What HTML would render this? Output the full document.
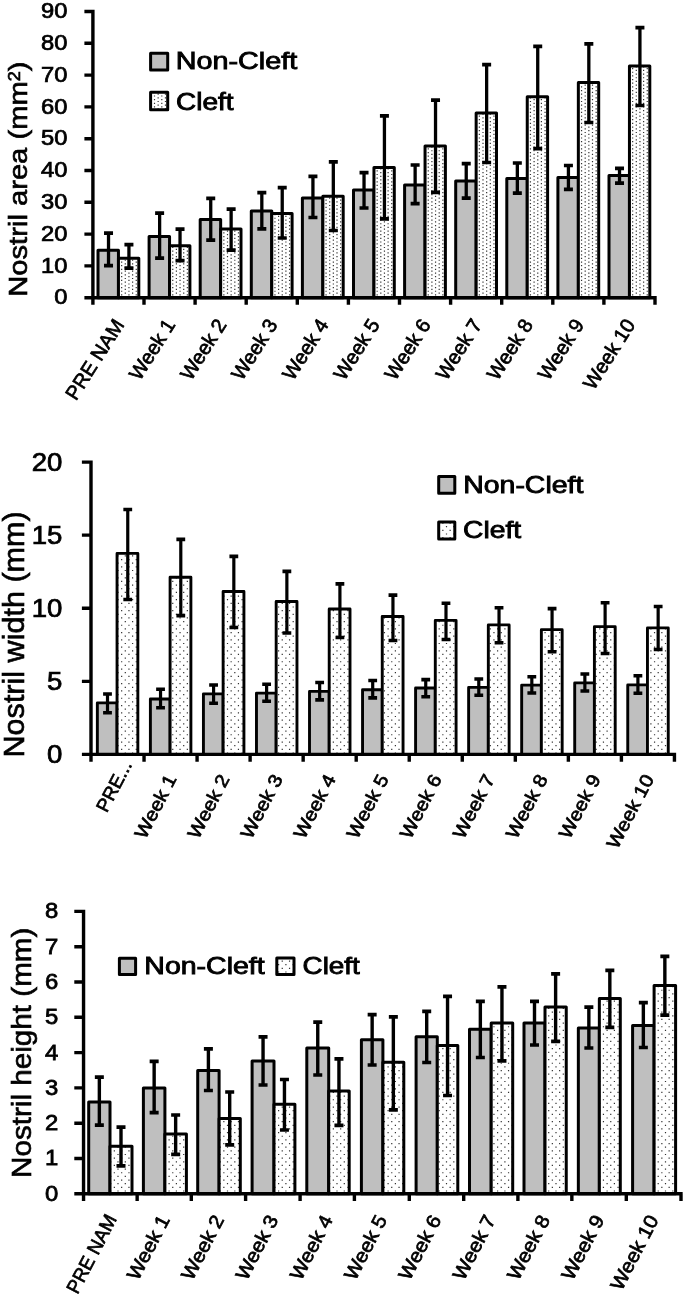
<!DOCTYPE html>
<html><head><meta charset="utf-8"><title>Nostril measurements</title>
<style>
html,body{margin:0;padding:0;background:#fff;}
body{width:685px;height:1300px;overflow:hidden;}
svg{display:block;font-family:"Liberation Sans", sans-serif;fill:#000;}
</style></head><body>
<svg width="685" height="1300" viewBox="0 0 685 1300">
<defs>
<pattern id="p1" width="73" height="73" patternUnits="userSpaceOnUse"><rect width="73" height="73" fill="#fff"/><path d="M0.6 0.5h1.2v1.2h-1.2zM4.25 2.33h1.2v1.2h-1.2zM0.6 4.15h1.2v1.2h-1.2zM4.25 5.97h1.2v1.2h-1.2zM0.6 7.8h1.2v1.2h-1.2zM4.25 9.62h1.2v1.2h-1.2zM0.6 11.45h1.2v1.2h-1.2zM4.25 13.27h1.2v1.2h-1.2zM0.6 15.1h1.2v1.2h-1.2zM4.25 16.93h1.2v1.2h-1.2zM0.6 18.75h1.2v1.2h-1.2zM4.25 20.57h1.2v1.2h-1.2zM0.6 22.4h1.2v1.2h-1.2zM4.25 24.22h1.2v1.2h-1.2zM0.6 26.05h1.2v1.2h-1.2zM4.25 27.88h1.2v1.2h-1.2zM0.6 29.7h1.2v1.2h-1.2zM4.25 31.52h1.2v1.2h-1.2zM0.6 33.35h1.2v1.2h-1.2zM4.25 35.18h1.2v1.2h-1.2zM0.6 37h1.2v1.2h-1.2zM4.25 38.83h1.2v1.2h-1.2zM0.6 40.65h1.2v1.2h-1.2zM4.25 42.48h1.2v1.2h-1.2zM0.6 44.3h1.2v1.2h-1.2zM4.25 46.12h1.2v1.2h-1.2zM0.6 47.95h1.2v1.2h-1.2zM4.25 49.77h1.2v1.2h-1.2zM0.6 51.6h1.2v1.2h-1.2zM4.25 53.43h1.2v1.2h-1.2zM0.6 55.25h1.2v1.2h-1.2zM4.25 57.08h1.2v1.2h-1.2zM0.6 58.9h1.2v1.2h-1.2zM4.25 60.73h1.2v1.2h-1.2zM0.6 62.55h1.2v1.2h-1.2zM4.25 64.38h1.2v1.2h-1.2zM0.6 66.2h1.2v1.2h-1.2zM4.25 68.03h1.2v1.2h-1.2zM0.6 69.85h1.2v1.2h-1.2zM4.25 71.67h1.2v1.2h-1.2zM7.9 0.5h1.2v1.2h-1.2zM11.55 2.33h1.2v1.2h-1.2zM7.9 4.15h1.2v1.2h-1.2zM11.55 5.97h1.2v1.2h-1.2zM7.9 7.8h1.2v1.2h-1.2zM11.55 9.62h1.2v1.2h-1.2zM7.9 11.45h1.2v1.2h-1.2zM11.55 13.27h1.2v1.2h-1.2zM7.9 15.1h1.2v1.2h-1.2zM11.55 16.93h1.2v1.2h-1.2zM7.9 18.75h1.2v1.2h-1.2zM11.55 20.57h1.2v1.2h-1.2zM7.9 22.4h1.2v1.2h-1.2zM11.55 24.22h1.2v1.2h-1.2zM7.9 26.05h1.2v1.2h-1.2zM11.55 27.88h1.2v1.2h-1.2zM7.9 29.7h1.2v1.2h-1.2zM11.55 31.52h1.2v1.2h-1.2zM7.9 33.35h1.2v1.2h-1.2zM11.55 35.18h1.2v1.2h-1.2zM7.9 37h1.2v1.2h-1.2zM11.55 38.83h1.2v1.2h-1.2zM7.9 40.65h1.2v1.2h-1.2zM11.55 42.48h1.2v1.2h-1.2zM7.9 44.3h1.2v1.2h-1.2zM11.55 46.12h1.2v1.2h-1.2zM7.9 47.95h1.2v1.2h-1.2zM11.55 49.77h1.2v1.2h-1.2zM7.9 51.6h1.2v1.2h-1.2zM11.55 53.43h1.2v1.2h-1.2zM7.9 55.25h1.2v1.2h-1.2zM11.55 57.08h1.2v1.2h-1.2zM7.9 58.9h1.2v1.2h-1.2zM11.55 60.73h1.2v1.2h-1.2zM7.9 62.55h1.2v1.2h-1.2zM11.55 64.38h1.2v1.2h-1.2zM7.9 66.2h1.2v1.2h-1.2zM11.55 68.03h1.2v1.2h-1.2zM7.9 69.85h1.2v1.2h-1.2zM11.55 71.67h1.2v1.2h-1.2zM15.2 0.5h1.2v1.2h-1.2zM18.85 2.33h1.2v1.2h-1.2zM15.2 4.15h1.2v1.2h-1.2zM18.85 5.97h1.2v1.2h-1.2zM15.2 7.8h1.2v1.2h-1.2zM18.85 9.62h1.2v1.2h-1.2zM15.2 11.45h1.2v1.2h-1.2zM18.85 13.27h1.2v1.2h-1.2zM15.2 15.1h1.2v1.2h-1.2zM18.85 16.93h1.2v1.2h-1.2zM15.2 18.75h1.2v1.2h-1.2zM18.85 20.57h1.2v1.2h-1.2zM15.2 22.4h1.2v1.2h-1.2zM18.85 24.22h1.2v1.2h-1.2zM15.2 26.05h1.2v1.2h-1.2zM18.85 27.88h1.2v1.2h-1.2zM15.2 29.7h1.2v1.2h-1.2zM18.85 31.52h1.2v1.2h-1.2zM15.2 33.35h1.2v1.2h-1.2zM18.85 35.18h1.2v1.2h-1.2zM15.2 37h1.2v1.2h-1.2zM18.85 38.83h1.2v1.2h-1.2zM15.2 40.65h1.2v1.2h-1.2zM18.85 42.48h1.2v1.2h-1.2zM15.2 44.3h1.2v1.2h-1.2zM18.85 46.12h1.2v1.2h-1.2zM15.2 47.95h1.2v1.2h-1.2zM18.85 49.77h1.2v1.2h-1.2zM15.2 51.6h1.2v1.2h-1.2zM18.85 53.43h1.2v1.2h-1.2zM15.2 55.25h1.2v1.2h-1.2zM18.85 57.08h1.2v1.2h-1.2zM15.2 58.9h1.2v1.2h-1.2zM18.85 60.73h1.2v1.2h-1.2zM15.2 62.55h1.2v1.2h-1.2zM18.85 64.38h1.2v1.2h-1.2zM15.2 66.2h1.2v1.2h-1.2zM18.85 68.03h1.2v1.2h-1.2zM15.2 69.85h1.2v1.2h-1.2zM18.85 71.67h1.2v1.2h-1.2zM22.5 0.5h1.2v1.2h-1.2zM26.15 2.33h1.2v1.2h-1.2zM22.5 4.15h1.2v1.2h-1.2zM26.15 5.97h1.2v1.2h-1.2zM22.5 7.8h1.2v1.2h-1.2zM26.15 9.62h1.2v1.2h-1.2zM22.5 11.45h1.2v1.2h-1.2zM26.15 13.27h1.2v1.2h-1.2zM22.5 15.1h1.2v1.2h-1.2zM26.15 16.93h1.2v1.2h-1.2zM22.5 18.75h1.2v1.2h-1.2zM26.15 20.57h1.2v1.2h-1.2zM22.5 22.4h1.2v1.2h-1.2zM26.15 24.22h1.2v1.2h-1.2zM22.5 26.05h1.2v1.2h-1.2zM26.15 27.88h1.2v1.2h-1.2zM22.5 29.7h1.2v1.2h-1.2zM26.15 31.52h1.2v1.2h-1.2zM22.5 33.35h1.2v1.2h-1.2zM26.15 35.18h1.2v1.2h-1.2zM22.5 37h1.2v1.2h-1.2zM26.15 38.83h1.2v1.2h-1.2zM22.5 40.65h1.2v1.2h-1.2zM26.15 42.48h1.2v1.2h-1.2zM22.5 44.3h1.2v1.2h-1.2zM26.15 46.12h1.2v1.2h-1.2zM22.5 47.95h1.2v1.2h-1.2zM26.15 49.77h1.2v1.2h-1.2zM22.5 51.6h1.2v1.2h-1.2zM26.15 53.43h1.2v1.2h-1.2zM22.5 55.25h1.2v1.2h-1.2zM26.15 57.08h1.2v1.2h-1.2zM22.5 58.9h1.2v1.2h-1.2zM26.15 60.73h1.2v1.2h-1.2zM22.5 62.55h1.2v1.2h-1.2zM26.15 64.38h1.2v1.2h-1.2zM22.5 66.2h1.2v1.2h-1.2zM26.15 68.03h1.2v1.2h-1.2zM22.5 69.85h1.2v1.2h-1.2zM26.15 71.67h1.2v1.2h-1.2zM29.8 0.5h1.2v1.2h-1.2zM33.45 2.33h1.2v1.2h-1.2zM29.8 4.15h1.2v1.2h-1.2zM33.45 5.97h1.2v1.2h-1.2zM29.8 7.8h1.2v1.2h-1.2zM33.45 9.62h1.2v1.2h-1.2zM29.8 11.45h1.2v1.2h-1.2zM33.45 13.27h1.2v1.2h-1.2zM29.8 15.1h1.2v1.2h-1.2zM33.45 16.93h1.2v1.2h-1.2zM29.8 18.75h1.2v1.2h-1.2zM33.45 20.57h1.2v1.2h-1.2zM29.8 22.4h1.2v1.2h-1.2zM33.45 24.22h1.2v1.2h-1.2zM29.8 26.05h1.2v1.2h-1.2zM33.45 27.88h1.2v1.2h-1.2zM29.8 29.7h1.2v1.2h-1.2zM33.45 31.52h1.2v1.2h-1.2zM29.8 33.35h1.2v1.2h-1.2zM33.45 35.18h1.2v1.2h-1.2zM29.8 37h1.2v1.2h-1.2zM33.45 38.83h1.2v1.2h-1.2zM29.8 40.65h1.2v1.2h-1.2zM33.45 42.48h1.2v1.2h-1.2zM29.8 44.3h1.2v1.2h-1.2zM33.45 46.12h1.2v1.2h-1.2zM29.8 47.95h1.2v1.2h-1.2zM33.45 49.77h1.2v1.2h-1.2zM29.8 51.6h1.2v1.2h-1.2zM33.45 53.43h1.2v1.2h-1.2zM29.8 55.25h1.2v1.2h-1.2zM33.45 57.08h1.2v1.2h-1.2zM29.8 58.9h1.2v1.2h-1.2zM33.45 60.73h1.2v1.2h-1.2zM29.8 62.55h1.2v1.2h-1.2zM33.45 64.38h1.2v1.2h-1.2zM29.8 66.2h1.2v1.2h-1.2zM33.45 68.03h1.2v1.2h-1.2zM29.8 69.85h1.2v1.2h-1.2zM33.45 71.67h1.2v1.2h-1.2zM37.1 0.5h1.2v1.2h-1.2zM40.75 2.33h1.2v1.2h-1.2zM37.1 4.15h1.2v1.2h-1.2zM40.75 5.97h1.2v1.2h-1.2zM37.1 7.8h1.2v1.2h-1.2zM40.75 9.62h1.2v1.2h-1.2zM37.1 11.45h1.2v1.2h-1.2zM40.75 13.27h1.2v1.2h-1.2zM37.1 15.1h1.2v1.2h-1.2zM40.75 16.93h1.2v1.2h-1.2zM37.1 18.75h1.2v1.2h-1.2zM40.75 20.57h1.2v1.2h-1.2zM37.1 22.4h1.2v1.2h-1.2zM40.75 24.22h1.2v1.2h-1.2zM37.1 26.05h1.2v1.2h-1.2zM40.75 27.88h1.2v1.2h-1.2zM37.1 29.7h1.2v1.2h-1.2zM40.75 31.52h1.2v1.2h-1.2zM37.1 33.35h1.2v1.2h-1.2zM40.75 35.18h1.2v1.2h-1.2zM37.1 37h1.2v1.2h-1.2zM40.75 38.83h1.2v1.2h-1.2zM37.1 40.65h1.2v1.2h-1.2zM40.75 42.48h1.2v1.2h-1.2zM37.1 44.3h1.2v1.2h-1.2zM40.75 46.12h1.2v1.2h-1.2zM37.1 47.95h1.2v1.2h-1.2zM40.75 49.77h1.2v1.2h-1.2zM37.1 51.6h1.2v1.2h-1.2zM40.75 53.43h1.2v1.2h-1.2zM37.1 55.25h1.2v1.2h-1.2zM40.75 57.08h1.2v1.2h-1.2zM37.1 58.9h1.2v1.2h-1.2zM40.75 60.73h1.2v1.2h-1.2zM37.1 62.55h1.2v1.2h-1.2zM40.75 64.38h1.2v1.2h-1.2zM37.1 66.2h1.2v1.2h-1.2zM40.75 68.03h1.2v1.2h-1.2zM37.1 69.85h1.2v1.2h-1.2zM40.75 71.67h1.2v1.2h-1.2zM44.4 0.5h1.2v1.2h-1.2zM48.05 2.33h1.2v1.2h-1.2zM44.4 4.15h1.2v1.2h-1.2zM48.05 5.97h1.2v1.2h-1.2zM44.4 7.8h1.2v1.2h-1.2zM48.05 9.62h1.2v1.2h-1.2zM44.4 11.45h1.2v1.2h-1.2zM48.05 13.27h1.2v1.2h-1.2zM44.4 15.1h1.2v1.2h-1.2zM48.05 16.93h1.2v1.2h-1.2zM44.4 18.75h1.2v1.2h-1.2zM48.05 20.57h1.2v1.2h-1.2zM44.4 22.4h1.2v1.2h-1.2zM48.05 24.22h1.2v1.2h-1.2zM44.4 26.05h1.2v1.2h-1.2zM48.05 27.88h1.2v1.2h-1.2zM44.4 29.7h1.2v1.2h-1.2zM48.05 31.52h1.2v1.2h-1.2zM44.4 33.35h1.2v1.2h-1.2zM48.05 35.18h1.2v1.2h-1.2zM44.4 37h1.2v1.2h-1.2zM48.05 38.83h1.2v1.2h-1.2zM44.4 40.65h1.2v1.2h-1.2zM48.05 42.48h1.2v1.2h-1.2zM44.4 44.3h1.2v1.2h-1.2zM48.05 46.12h1.2v1.2h-1.2zM44.4 47.95h1.2v1.2h-1.2zM48.05 49.77h1.2v1.2h-1.2zM44.4 51.6h1.2v1.2h-1.2zM48.05 53.43h1.2v1.2h-1.2zM44.4 55.25h1.2v1.2h-1.2zM48.05 57.08h1.2v1.2h-1.2zM44.4 58.9h1.2v1.2h-1.2zM48.05 60.73h1.2v1.2h-1.2zM44.4 62.55h1.2v1.2h-1.2zM48.05 64.38h1.2v1.2h-1.2zM44.4 66.2h1.2v1.2h-1.2zM48.05 68.03h1.2v1.2h-1.2zM44.4 69.85h1.2v1.2h-1.2zM48.05 71.67h1.2v1.2h-1.2zM51.7 0.5h1.2v1.2h-1.2zM55.35 2.33h1.2v1.2h-1.2zM51.7 4.15h1.2v1.2h-1.2zM55.35 5.97h1.2v1.2h-1.2zM51.7 7.8h1.2v1.2h-1.2zM55.35 9.62h1.2v1.2h-1.2zM51.7 11.45h1.2v1.2h-1.2zM55.35 13.27h1.2v1.2h-1.2zM51.7 15.1h1.2v1.2h-1.2zM55.35 16.93h1.2v1.2h-1.2zM51.7 18.75h1.2v1.2h-1.2zM55.35 20.57h1.2v1.2h-1.2zM51.7 22.4h1.2v1.2h-1.2zM55.35 24.22h1.2v1.2h-1.2zM51.7 26.05h1.2v1.2h-1.2zM55.35 27.88h1.2v1.2h-1.2zM51.7 29.7h1.2v1.2h-1.2zM55.35 31.52h1.2v1.2h-1.2zM51.7 33.35h1.2v1.2h-1.2zM55.35 35.18h1.2v1.2h-1.2zM51.7 37h1.2v1.2h-1.2zM55.35 38.83h1.2v1.2h-1.2zM51.7 40.65h1.2v1.2h-1.2zM55.35 42.48h1.2v1.2h-1.2zM51.7 44.3h1.2v1.2h-1.2zM55.35 46.12h1.2v1.2h-1.2zM51.7 47.95h1.2v1.2h-1.2zM55.35 49.77h1.2v1.2h-1.2zM51.7 51.6h1.2v1.2h-1.2zM55.35 53.43h1.2v1.2h-1.2zM51.7 55.25h1.2v1.2h-1.2zM55.35 57.08h1.2v1.2h-1.2zM51.7 58.9h1.2v1.2h-1.2zM55.35 60.73h1.2v1.2h-1.2zM51.7 62.55h1.2v1.2h-1.2zM55.35 64.38h1.2v1.2h-1.2zM51.7 66.2h1.2v1.2h-1.2zM55.35 68.03h1.2v1.2h-1.2zM51.7 69.85h1.2v1.2h-1.2zM55.35 71.67h1.2v1.2h-1.2zM59 0.5h1.2v1.2h-1.2zM62.65 2.33h1.2v1.2h-1.2zM59 4.15h1.2v1.2h-1.2zM62.65 5.97h1.2v1.2h-1.2zM59 7.8h1.2v1.2h-1.2zM62.65 9.62h1.2v1.2h-1.2zM59 11.45h1.2v1.2h-1.2zM62.65 13.27h1.2v1.2h-1.2zM59 15.1h1.2v1.2h-1.2zM62.65 16.93h1.2v1.2h-1.2zM59 18.75h1.2v1.2h-1.2zM62.65 20.57h1.2v1.2h-1.2zM59 22.4h1.2v1.2h-1.2zM62.65 24.22h1.2v1.2h-1.2zM59 26.05h1.2v1.2h-1.2zM62.65 27.88h1.2v1.2h-1.2zM59 29.7h1.2v1.2h-1.2zM62.65 31.52h1.2v1.2h-1.2zM59 33.35h1.2v1.2h-1.2zM62.65 35.18h1.2v1.2h-1.2zM59 37h1.2v1.2h-1.2zM62.65 38.83h1.2v1.2h-1.2zM59 40.65h1.2v1.2h-1.2zM62.65 42.48h1.2v1.2h-1.2zM59 44.3h1.2v1.2h-1.2zM62.65 46.12h1.2v1.2h-1.2zM59 47.95h1.2v1.2h-1.2zM62.65 49.77h1.2v1.2h-1.2zM59 51.6h1.2v1.2h-1.2zM62.65 53.43h1.2v1.2h-1.2zM59 55.25h1.2v1.2h-1.2zM62.65 57.08h1.2v1.2h-1.2zM59 58.9h1.2v1.2h-1.2zM62.65 60.73h1.2v1.2h-1.2zM59 62.55h1.2v1.2h-1.2zM62.65 64.38h1.2v1.2h-1.2zM59 66.2h1.2v1.2h-1.2zM62.65 68.03h1.2v1.2h-1.2zM59 69.85h1.2v1.2h-1.2zM62.65 71.67h1.2v1.2h-1.2zM66.3 0.5h1.2v1.2h-1.2zM69.95 2.33h1.2v1.2h-1.2zM66.3 4.15h1.2v1.2h-1.2zM69.95 5.97h1.2v1.2h-1.2zM66.3 7.8h1.2v1.2h-1.2zM69.95 9.62h1.2v1.2h-1.2zM66.3 11.45h1.2v1.2h-1.2zM69.95 13.27h1.2v1.2h-1.2zM66.3 15.1h1.2v1.2h-1.2zM69.95 16.93h1.2v1.2h-1.2zM66.3 18.75h1.2v1.2h-1.2zM69.95 20.57h1.2v1.2h-1.2zM66.3 22.4h1.2v1.2h-1.2zM69.95 24.22h1.2v1.2h-1.2zM66.3 26.05h1.2v1.2h-1.2zM69.95 27.88h1.2v1.2h-1.2zM66.3 29.7h1.2v1.2h-1.2zM69.95 31.52h1.2v1.2h-1.2zM66.3 33.35h1.2v1.2h-1.2zM69.95 35.18h1.2v1.2h-1.2zM66.3 37h1.2v1.2h-1.2zM69.95 38.83h1.2v1.2h-1.2zM66.3 40.65h1.2v1.2h-1.2zM69.95 42.48h1.2v1.2h-1.2zM66.3 44.3h1.2v1.2h-1.2zM69.95 46.12h1.2v1.2h-1.2zM66.3 47.95h1.2v1.2h-1.2zM69.95 49.77h1.2v1.2h-1.2zM66.3 51.6h1.2v1.2h-1.2zM69.95 53.43h1.2v1.2h-1.2zM66.3 55.25h1.2v1.2h-1.2zM69.95 57.08h1.2v1.2h-1.2zM66.3 58.9h1.2v1.2h-1.2zM69.95 60.73h1.2v1.2h-1.2zM66.3 62.55h1.2v1.2h-1.2zM69.95 64.38h1.2v1.2h-1.2zM66.3 66.2h1.2v1.2h-1.2zM69.95 68.03h1.2v1.2h-1.2zM66.3 69.85h1.2v1.2h-1.2zM69.95 71.67h1.2v1.2h-1.2z" fill="#333"/></pattern>
<pattern id="p2" width="73" height="73" patternUnits="userSpaceOnUse"><rect width="73" height="73" fill="#fff"/><path d="M0.6 0.5h1.2v1.2h-1.2zM4.25 4.15h1.2v1.2h-1.2zM0.6 7.8h1.2v1.2h-1.2zM4.25 11.45h1.2v1.2h-1.2zM0.6 15.1h1.2v1.2h-1.2zM4.25 18.75h1.2v1.2h-1.2zM0.6 22.4h1.2v1.2h-1.2zM4.25 26.05h1.2v1.2h-1.2zM0.6 29.7h1.2v1.2h-1.2zM4.25 33.35h1.2v1.2h-1.2zM0.6 37h1.2v1.2h-1.2zM4.25 40.65h1.2v1.2h-1.2zM0.6 44.3h1.2v1.2h-1.2zM4.25 47.95h1.2v1.2h-1.2zM0.6 51.6h1.2v1.2h-1.2zM4.25 55.25h1.2v1.2h-1.2zM0.6 58.9h1.2v1.2h-1.2zM4.25 62.55h1.2v1.2h-1.2zM0.6 66.2h1.2v1.2h-1.2zM4.25 69.85h1.2v1.2h-1.2zM7.9 0.5h1.2v1.2h-1.2zM11.55 4.15h1.2v1.2h-1.2zM7.9 7.8h1.2v1.2h-1.2zM11.55 11.45h1.2v1.2h-1.2zM7.9 15.1h1.2v1.2h-1.2zM11.55 18.75h1.2v1.2h-1.2zM7.9 22.4h1.2v1.2h-1.2zM11.55 26.05h1.2v1.2h-1.2zM7.9 29.7h1.2v1.2h-1.2zM11.55 33.35h1.2v1.2h-1.2zM7.9 37h1.2v1.2h-1.2zM11.55 40.65h1.2v1.2h-1.2zM7.9 44.3h1.2v1.2h-1.2zM11.55 47.95h1.2v1.2h-1.2zM7.9 51.6h1.2v1.2h-1.2zM11.55 55.25h1.2v1.2h-1.2zM7.9 58.9h1.2v1.2h-1.2zM11.55 62.55h1.2v1.2h-1.2zM7.9 66.2h1.2v1.2h-1.2zM11.55 69.85h1.2v1.2h-1.2zM15.2 0.5h1.2v1.2h-1.2zM18.85 4.15h1.2v1.2h-1.2zM15.2 7.8h1.2v1.2h-1.2zM18.85 11.45h1.2v1.2h-1.2zM15.2 15.1h1.2v1.2h-1.2zM18.85 18.75h1.2v1.2h-1.2zM15.2 22.4h1.2v1.2h-1.2zM18.85 26.05h1.2v1.2h-1.2zM15.2 29.7h1.2v1.2h-1.2zM18.85 33.35h1.2v1.2h-1.2zM15.2 37h1.2v1.2h-1.2zM18.85 40.65h1.2v1.2h-1.2zM15.2 44.3h1.2v1.2h-1.2zM18.85 47.95h1.2v1.2h-1.2zM15.2 51.6h1.2v1.2h-1.2zM18.85 55.25h1.2v1.2h-1.2zM15.2 58.9h1.2v1.2h-1.2zM18.85 62.55h1.2v1.2h-1.2zM15.2 66.2h1.2v1.2h-1.2zM18.85 69.85h1.2v1.2h-1.2zM22.5 0.5h1.2v1.2h-1.2zM26.15 4.15h1.2v1.2h-1.2zM22.5 7.8h1.2v1.2h-1.2zM26.15 11.45h1.2v1.2h-1.2zM22.5 15.1h1.2v1.2h-1.2zM26.15 18.75h1.2v1.2h-1.2zM22.5 22.4h1.2v1.2h-1.2zM26.15 26.05h1.2v1.2h-1.2zM22.5 29.7h1.2v1.2h-1.2zM26.15 33.35h1.2v1.2h-1.2zM22.5 37h1.2v1.2h-1.2zM26.15 40.65h1.2v1.2h-1.2zM22.5 44.3h1.2v1.2h-1.2zM26.15 47.95h1.2v1.2h-1.2zM22.5 51.6h1.2v1.2h-1.2zM26.15 55.25h1.2v1.2h-1.2zM22.5 58.9h1.2v1.2h-1.2zM26.15 62.55h1.2v1.2h-1.2zM22.5 66.2h1.2v1.2h-1.2zM26.15 69.85h1.2v1.2h-1.2zM29.8 0.5h1.2v1.2h-1.2zM33.45 4.15h1.2v1.2h-1.2zM29.8 7.8h1.2v1.2h-1.2zM33.45 11.45h1.2v1.2h-1.2zM29.8 15.1h1.2v1.2h-1.2zM33.45 18.75h1.2v1.2h-1.2zM29.8 22.4h1.2v1.2h-1.2zM33.45 26.05h1.2v1.2h-1.2zM29.8 29.7h1.2v1.2h-1.2zM33.45 33.35h1.2v1.2h-1.2zM29.8 37h1.2v1.2h-1.2zM33.45 40.65h1.2v1.2h-1.2zM29.8 44.3h1.2v1.2h-1.2zM33.45 47.95h1.2v1.2h-1.2zM29.8 51.6h1.2v1.2h-1.2zM33.45 55.25h1.2v1.2h-1.2zM29.8 58.9h1.2v1.2h-1.2zM33.45 62.55h1.2v1.2h-1.2zM29.8 66.2h1.2v1.2h-1.2zM33.45 69.85h1.2v1.2h-1.2zM37.1 0.5h1.2v1.2h-1.2zM40.75 4.15h1.2v1.2h-1.2zM37.1 7.8h1.2v1.2h-1.2zM40.75 11.45h1.2v1.2h-1.2zM37.1 15.1h1.2v1.2h-1.2zM40.75 18.75h1.2v1.2h-1.2zM37.1 22.4h1.2v1.2h-1.2zM40.75 26.05h1.2v1.2h-1.2zM37.1 29.7h1.2v1.2h-1.2zM40.75 33.35h1.2v1.2h-1.2zM37.1 37h1.2v1.2h-1.2zM40.75 40.65h1.2v1.2h-1.2zM37.1 44.3h1.2v1.2h-1.2zM40.75 47.95h1.2v1.2h-1.2zM37.1 51.6h1.2v1.2h-1.2zM40.75 55.25h1.2v1.2h-1.2zM37.1 58.9h1.2v1.2h-1.2zM40.75 62.55h1.2v1.2h-1.2zM37.1 66.2h1.2v1.2h-1.2zM40.75 69.85h1.2v1.2h-1.2zM44.4 0.5h1.2v1.2h-1.2zM48.05 4.15h1.2v1.2h-1.2zM44.4 7.8h1.2v1.2h-1.2zM48.05 11.45h1.2v1.2h-1.2zM44.4 15.1h1.2v1.2h-1.2zM48.05 18.75h1.2v1.2h-1.2zM44.4 22.4h1.2v1.2h-1.2zM48.05 26.05h1.2v1.2h-1.2zM44.4 29.7h1.2v1.2h-1.2zM48.05 33.35h1.2v1.2h-1.2zM44.4 37h1.2v1.2h-1.2zM48.05 40.65h1.2v1.2h-1.2zM44.4 44.3h1.2v1.2h-1.2zM48.05 47.95h1.2v1.2h-1.2zM44.4 51.6h1.2v1.2h-1.2zM48.05 55.25h1.2v1.2h-1.2zM44.4 58.9h1.2v1.2h-1.2zM48.05 62.55h1.2v1.2h-1.2zM44.4 66.2h1.2v1.2h-1.2zM48.05 69.85h1.2v1.2h-1.2zM51.7 0.5h1.2v1.2h-1.2zM55.35 4.15h1.2v1.2h-1.2zM51.7 7.8h1.2v1.2h-1.2zM55.35 11.45h1.2v1.2h-1.2zM51.7 15.1h1.2v1.2h-1.2zM55.35 18.75h1.2v1.2h-1.2zM51.7 22.4h1.2v1.2h-1.2zM55.35 26.05h1.2v1.2h-1.2zM51.7 29.7h1.2v1.2h-1.2zM55.35 33.35h1.2v1.2h-1.2zM51.7 37h1.2v1.2h-1.2zM55.35 40.65h1.2v1.2h-1.2zM51.7 44.3h1.2v1.2h-1.2zM55.35 47.95h1.2v1.2h-1.2zM51.7 51.6h1.2v1.2h-1.2zM55.35 55.25h1.2v1.2h-1.2zM51.7 58.9h1.2v1.2h-1.2zM55.35 62.55h1.2v1.2h-1.2zM51.7 66.2h1.2v1.2h-1.2zM55.35 69.85h1.2v1.2h-1.2zM59 0.5h1.2v1.2h-1.2zM62.65 4.15h1.2v1.2h-1.2zM59 7.8h1.2v1.2h-1.2zM62.65 11.45h1.2v1.2h-1.2zM59 15.1h1.2v1.2h-1.2zM62.65 18.75h1.2v1.2h-1.2zM59 22.4h1.2v1.2h-1.2zM62.65 26.05h1.2v1.2h-1.2zM59 29.7h1.2v1.2h-1.2zM62.65 33.35h1.2v1.2h-1.2zM59 37h1.2v1.2h-1.2zM62.65 40.65h1.2v1.2h-1.2zM59 44.3h1.2v1.2h-1.2zM62.65 47.95h1.2v1.2h-1.2zM59 51.6h1.2v1.2h-1.2zM62.65 55.25h1.2v1.2h-1.2zM59 58.9h1.2v1.2h-1.2zM62.65 62.55h1.2v1.2h-1.2zM59 66.2h1.2v1.2h-1.2zM62.65 69.85h1.2v1.2h-1.2zM66.3 0.5h1.2v1.2h-1.2zM69.95 4.15h1.2v1.2h-1.2zM66.3 7.8h1.2v1.2h-1.2zM69.95 11.45h1.2v1.2h-1.2zM66.3 15.1h1.2v1.2h-1.2zM69.95 18.75h1.2v1.2h-1.2zM66.3 22.4h1.2v1.2h-1.2zM69.95 26.05h1.2v1.2h-1.2zM66.3 29.7h1.2v1.2h-1.2zM69.95 33.35h1.2v1.2h-1.2zM66.3 37h1.2v1.2h-1.2zM69.95 40.65h1.2v1.2h-1.2zM66.3 44.3h1.2v1.2h-1.2zM69.95 47.95h1.2v1.2h-1.2zM66.3 51.6h1.2v1.2h-1.2zM69.95 55.25h1.2v1.2h-1.2zM66.3 58.9h1.2v1.2h-1.2zM69.95 62.55h1.2v1.2h-1.2zM66.3 66.2h1.2v1.2h-1.2zM69.95 69.85h1.2v1.2h-1.2z" fill="#333"/></pattern>
</defs>
<rect width="685" height="1300" fill="#fff"/>
<rect x="98" y="250.2" width="20.45" height="47.5" fill="#bfbfbf" stroke="#000" stroke-linejoin="round" stroke-width="3"/>
<rect x="118.45" y="258.2" width="20.35" height="39.5" fill="url(#p1)" stroke="#000" stroke-linejoin="round" stroke-width="3"/>
<path d="M108.52 233V265.5" stroke="#000" stroke-width="3.3" fill="none"/>
<path d="M104.02 233.2H113.02M104.02 265.7H113.02" stroke="#000" stroke-width="3.7" fill="none"/>
<path d="M128.93 244.5V268" stroke="#000" stroke-width="3.3" fill="none"/>
<path d="M124.43 244.7H133.43M124.43 268.2H133.43" stroke="#000" stroke-width="3.7" fill="none"/>
<rect x="149.1" y="236.45" width="20.45" height="61.25" fill="#bfbfbf" stroke="#000" stroke-linejoin="round" stroke-width="3"/>
<rect x="169.55" y="245.7" width="20.35" height="52" fill="url(#p1)" stroke="#000" stroke-linejoin="round" stroke-width="3"/>
<path d="M159.62 213V258" stroke="#000" stroke-width="3.3" fill="none"/>
<path d="M155.12 213.2H164.12M155.12 258.2H164.12" stroke="#000" stroke-width="3.7" fill="none"/>
<path d="M180.03 229V260.5" stroke="#000" stroke-width="3.3" fill="none"/>
<path d="M175.53 229.2H184.53M175.53 260.7H184.53" stroke="#000" stroke-width="3.7" fill="none"/>
<rect x="200.2" y="219.45" width="20.45" height="78.25" fill="#bfbfbf" stroke="#000" stroke-linejoin="round" stroke-width="3"/>
<rect x="220.65" y="228.95" width="20.35" height="68.75" fill="url(#p1)" stroke="#000" stroke-linejoin="round" stroke-width="3"/>
<path d="M210.73 198.25V240" stroke="#000" stroke-width="3.3" fill="none"/>
<path d="M206.23 198.45H215.23M206.23 240.2H215.23" stroke="#000" stroke-width="3.7" fill="none"/>
<path d="M231.13 209V250" stroke="#000" stroke-width="3.3" fill="none"/>
<path d="M226.63 209.2H235.63M226.63 250.2H235.63" stroke="#000" stroke-width="3.7" fill="none"/>
<rect x="251.3" y="211" width="20.45" height="86.7" fill="#bfbfbf" stroke="#000" stroke-linejoin="round" stroke-width="3"/>
<rect x="271.75" y="213.5" width="20.35" height="84.2" fill="url(#p1)" stroke="#000" stroke-linejoin="round" stroke-width="3"/>
<path d="M261.82 192.4V228.6" stroke="#000" stroke-width="3.3" fill="none"/>
<path d="M257.32 192.6H266.32M257.32 228.8H266.32" stroke="#000" stroke-width="3.7" fill="none"/>
<path d="M282.23 187.4V237.8" stroke="#000" stroke-width="3.3" fill="none"/>
<path d="M277.73 187.6H286.73M277.73 238H286.73" stroke="#000" stroke-width="3.7" fill="none"/>
<rect x="302.4" y="198.1" width="20.45" height="99.6" fill="#bfbfbf" stroke="#000" stroke-linejoin="round" stroke-width="3"/>
<rect x="322.85" y="196.3" width="20.35" height="101.4" fill="url(#p1)" stroke="#000" stroke-linejoin="round" stroke-width="3"/>
<path d="M312.93 176.1V217.3" stroke="#000" stroke-width="3.3" fill="none"/>
<path d="M308.43 176.3H317.43M308.43 217.5H317.43" stroke="#000" stroke-width="3.7" fill="none"/>
<path d="M333.32 161.7V230.3" stroke="#000" stroke-width="3.3" fill="none"/>
<path d="M328.82 161.9H337.82M328.82 230.5H337.82" stroke="#000" stroke-width="3.7" fill="none"/>
<rect x="353.5" y="190.1" width="20.45" height="107.6" fill="#bfbfbf" stroke="#000" stroke-linejoin="round" stroke-width="3"/>
<rect x="373.95" y="167.6" width="20.35" height="130.1" fill="url(#p1)" stroke="#000" stroke-linejoin="round" stroke-width="3"/>
<path d="M364.03 172.4V207.8" stroke="#000" stroke-width="3.3" fill="none"/>
<path d="M359.53 172.6H368.53M359.53 208H368.53" stroke="#000" stroke-width="3.7" fill="none"/>
<path d="M384.43 115.7V218.6" stroke="#000" stroke-width="3.3" fill="none"/>
<path d="M379.93 115.9H388.93M379.93 218.8H388.93" stroke="#000" stroke-width="3.7" fill="none"/>
<rect x="404.6" y="184.9" width="20.45" height="112.8" fill="#bfbfbf" stroke="#000" stroke-linejoin="round" stroke-width="3"/>
<rect x="425.05" y="146" width="20.35" height="151.7" fill="url(#p1)" stroke="#000" stroke-linejoin="round" stroke-width="3"/>
<path d="M415.13 164.8V203.5" stroke="#000" stroke-width="3.3" fill="none"/>
<path d="M410.63 165H419.63M410.63 203.7H419.63" stroke="#000" stroke-width="3.7" fill="none"/>
<path d="M435.53 99.9V192.2" stroke="#000" stroke-width="3.3" fill="none"/>
<path d="M431.03 100.1H440.03M431.03 192.4H440.03" stroke="#000" stroke-width="3.7" fill="none"/>
<rect x="455.7" y="180.9" width="20.45" height="116.8" fill="#bfbfbf" stroke="#000" stroke-linejoin="round" stroke-width="3"/>
<rect x="476.15" y="113" width="20.35" height="184.7" fill="url(#p1)" stroke="#000" stroke-linejoin="round" stroke-width="3"/>
<path d="M466.23 163.5V198" stroke="#000" stroke-width="3.3" fill="none"/>
<path d="M461.73 163.7H470.73M461.73 198.2H470.73" stroke="#000" stroke-width="3.7" fill="none"/>
<path d="M486.63 64.4V162.3" stroke="#000" stroke-width="3.3" fill="none"/>
<path d="M482.13 64.6H491.13M482.13 162.5H491.13" stroke="#000" stroke-width="3.7" fill="none"/>
<rect x="506.8" y="178.4" width="20.45" height="119.3" fill="#bfbfbf" stroke="#000" stroke-linejoin="round" stroke-width="3"/>
<rect x="527.25" y="96.8" width="20.35" height="200.9" fill="url(#p1)" stroke="#000" stroke-linejoin="round" stroke-width="3"/>
<path d="M517.33 162.8V193" stroke="#000" stroke-width="3.3" fill="none"/>
<path d="M512.83 163H521.83M512.83 193.2H521.83" stroke="#000" stroke-width="3.7" fill="none"/>
<path d="M537.72 46.2V148.5" stroke="#000" stroke-width="3.3" fill="none"/>
<path d="M533.22 46.4H542.22M533.22 148.7H542.22" stroke="#000" stroke-width="3.7" fill="none"/>
<rect x="557.9" y="177.4" width="20.45" height="120.3" fill="#bfbfbf" stroke="#000" stroke-linejoin="round" stroke-width="3"/>
<rect x="578.35" y="82.6" width="20.35" height="215.1" fill="url(#p1)" stroke="#000" stroke-linejoin="round" stroke-width="3"/>
<path d="M568.42 165.3V189.2" stroke="#000" stroke-width="3.3" fill="none"/>
<path d="M563.92 165.5H572.92M563.92 189.4H572.92" stroke="#000" stroke-width="3.7" fill="none"/>
<path d="M588.83 43.7V122.3" stroke="#000" stroke-width="3.3" fill="none"/>
<path d="M584.33 43.9H593.33M584.33 122.5H593.33" stroke="#000" stroke-width="3.7" fill="none"/>
<rect x="609" y="175.4" width="20.45" height="122.3" fill="#bfbfbf" stroke="#000" stroke-linejoin="round" stroke-width="3"/>
<rect x="629.45" y="66.1" width="20.35" height="231.6" fill="url(#p1)" stroke="#000" stroke-linejoin="round" stroke-width="3"/>
<path d="M619.52 168.2V183" stroke="#000" stroke-width="3.3" fill="none"/>
<path d="M615.02 168.4H624.02M615.02 183.2H624.02" stroke="#000" stroke-width="3.7" fill="none"/>
<path d="M639.92 27.5V105.3" stroke="#000" stroke-width="3.3" fill="none"/>
<path d="M635.42 27.7H644.42M635.42 105.5H644.42" stroke="#000" stroke-width="3.7" fill="none"/>
<path d="M92.9 9.8V299.4M84.4 297.7H656.7M84.4 11.5H92.9M84.4 43.3H92.9M84.4 75.1H92.9M84.4 106.9H92.9M84.4 138.7H92.9M84.4 170.5H92.9M84.4 202.3H92.9M84.4 234.1H92.9M84.4 265.9H92.9M92.9 297.7V304.8M144 297.7V304.8M195.1 297.7V304.8M246.2 297.7V304.8M297.3 297.7V304.8M348.4 297.7V304.8M399.5 297.7V304.8M450.6 297.7V304.8M501.7 297.7V304.8M552.8 297.7V304.8M603.9 297.7V304.8M655 297.7V304.8" stroke="#000" stroke-width="3.4" fill="none"/>
<rect x="97.35" y="702.9" width="19.7" height="51.5" fill="#bfbfbf" stroke="#000" stroke-linejoin="round" stroke-width="2.9"/>
<rect x="117.05" y="553.4" width="20.8" height="201" fill="url(#p2)" stroke="#000" stroke-linejoin="round" stroke-width="2.9"/>
<path d="M107.5 693.75V712.5" stroke="#000" stroke-width="3.2" fill="none"/>
<path d="M103.1 693.95H111.9M103.1 712.7H111.9" stroke="#000" stroke-width="3.6" fill="none"/>
<path d="M127.75 509.25V599.25" stroke="#000" stroke-width="3.2" fill="none"/>
<path d="M123.35 509.45H132.15M123.35 599.45H132.15" stroke="#000" stroke-width="3.6" fill="none"/>
<rect x="150.39" y="699" width="19.7" height="55.4" fill="#bfbfbf" stroke="#000" stroke-linejoin="round" stroke-width="2.9"/>
<rect x="170.09" y="577.3" width="20.8" height="177.1" fill="url(#p2)" stroke="#000" stroke-linejoin="round" stroke-width="2.9"/>
<path d="M160.54 689V707.6" stroke="#000" stroke-width="3.2" fill="none"/>
<path d="M156.14 689.2H164.94M156.14 707.8H164.94" stroke="#000" stroke-width="3.6" fill="none"/>
<path d="M180.79 539.2V615.4" stroke="#000" stroke-width="3.2" fill="none"/>
<path d="M176.39 539.4H185.19M176.39 615.6H185.19" stroke="#000" stroke-width="3.6" fill="none"/>
<rect x="203.43" y="693.9" width="19.7" height="60.5" fill="#bfbfbf" stroke="#000" stroke-linejoin="round" stroke-width="2.9"/>
<rect x="223.13" y="591.5" width="20.8" height="162.9" fill="url(#p2)" stroke="#000" stroke-linejoin="round" stroke-width="2.9"/>
<path d="M213.58 684.8V703" stroke="#000" stroke-width="3.2" fill="none"/>
<path d="M209.18 685H217.98M209.18 703.2H217.98" stroke="#000" stroke-width="3.6" fill="none"/>
<path d="M233.83 556.2V627.3" stroke="#000" stroke-width="3.2" fill="none"/>
<path d="M229.43 556.4H238.23M229.43 627.5H238.23" stroke="#000" stroke-width="3.6" fill="none"/>
<rect x="256.47" y="693.1" width="19.7" height="61.3" fill="#bfbfbf" stroke="#000" stroke-linejoin="round" stroke-width="2.9"/>
<rect x="276.17" y="601.5" width="20.8" height="152.9" fill="url(#p2)" stroke="#000" stroke-linejoin="round" stroke-width="2.9"/>
<path d="M266.62 684V701" stroke="#000" stroke-width="3.2" fill="none"/>
<path d="M262.22 684.2H271.02M262.22 701.2H271.02" stroke="#000" stroke-width="3.6" fill="none"/>
<path d="M286.87 571.2V632.8" stroke="#000" stroke-width="3.2" fill="none"/>
<path d="M282.47 571.4H291.27M282.47 633H291.27" stroke="#000" stroke-width="3.6" fill="none"/>
<rect x="309.51" y="691.4" width="19.7" height="63" fill="#bfbfbf" stroke="#000" stroke-linejoin="round" stroke-width="2.9"/>
<rect x="329.21" y="609" width="20.8" height="145.4" fill="url(#p2)" stroke="#000" stroke-linejoin="round" stroke-width="2.9"/>
<path d="M319.66 682.3V699.7" stroke="#000" stroke-width="3.2" fill="none"/>
<path d="M315.26 682.5H324.06M315.26 699.9H324.06" stroke="#000" stroke-width="3.6" fill="none"/>
<path d="M339.91 583.7V637.3" stroke="#000" stroke-width="3.2" fill="none"/>
<path d="M335.51 583.9H344.31M335.51 637.5H344.31" stroke="#000" stroke-width="3.6" fill="none"/>
<rect x="362.55" y="689.7" width="19.7" height="64.7" fill="#bfbfbf" stroke="#000" stroke-linejoin="round" stroke-width="2.9"/>
<rect x="382.25" y="616.5" width="20.8" height="137.9" fill="url(#p2)" stroke="#000" stroke-linejoin="round" stroke-width="2.9"/>
<path d="M372.7 680.3V697.7" stroke="#000" stroke-width="3.2" fill="none"/>
<path d="M368.3 680.5H377.1M368.3 697.9H377.1" stroke="#000" stroke-width="3.6" fill="none"/>
<path d="M392.95 594.9V640.3" stroke="#000" stroke-width="3.2" fill="none"/>
<path d="M388.55 595.1H397.35M388.55 640.5H397.35" stroke="#000" stroke-width="3.6" fill="none"/>
<rect x="415.59" y="688" width="19.7" height="66.4" fill="#bfbfbf" stroke="#000" stroke-linejoin="round" stroke-width="2.9"/>
<rect x="435.29" y="620.4" width="20.8" height="134" fill="url(#p2)" stroke="#000" stroke-linejoin="round" stroke-width="2.9"/>
<path d="M425.74 679.4V696.5" stroke="#000" stroke-width="3.2" fill="none"/>
<path d="M421.34 679.6H430.14M421.34 696.7H430.14" stroke="#000" stroke-width="3.6" fill="none"/>
<path d="M445.99 603V639.3" stroke="#000" stroke-width="3.2" fill="none"/>
<path d="M441.59 603.2H450.39M441.59 639.5H450.39" stroke="#000" stroke-width="3.6" fill="none"/>
<rect x="468.63" y="687.4" width="19.7" height="67" fill="#bfbfbf" stroke="#000" stroke-linejoin="round" stroke-width="2.9"/>
<rect x="488.33" y="624.9" width="20.8" height="129.5" fill="url(#p2)" stroke="#000" stroke-linejoin="round" stroke-width="2.9"/>
<path d="M478.78 678.75V695" stroke="#000" stroke-width="3.2" fill="none"/>
<path d="M474.38 678.95H483.18M474.38 695.2H483.18" stroke="#000" stroke-width="3.6" fill="none"/>
<path d="M499.03 607.5V642.5" stroke="#000" stroke-width="3.2" fill="none"/>
<path d="M494.63 607.7H503.43M494.63 642.7H503.43" stroke="#000" stroke-width="3.6" fill="none"/>
<rect x="521.67" y="685.15" width="19.7" height="69.25" fill="#bfbfbf" stroke="#000" stroke-linejoin="round" stroke-width="2.9"/>
<rect x="541.37" y="629.65" width="20.8" height="124.75" fill="url(#p2)" stroke="#000" stroke-linejoin="round" stroke-width="2.9"/>
<path d="M531.82 676.5V692.75" stroke="#000" stroke-width="3.2" fill="none"/>
<path d="M527.42 676.7H536.22M527.42 692.95H536.22" stroke="#000" stroke-width="3.6" fill="none"/>
<path d="M552.07 608.4V651.5" stroke="#000" stroke-width="3.2" fill="none"/>
<path d="M547.67 608.6H556.47M547.67 651.7H556.47" stroke="#000" stroke-width="3.6" fill="none"/>
<rect x="574.71" y="682.9" width="19.7" height="71.5" fill="#bfbfbf" stroke="#000" stroke-linejoin="round" stroke-width="2.9"/>
<rect x="594.41" y="626.65" width="20.8" height="127.75" fill="url(#p2)" stroke="#000" stroke-linejoin="round" stroke-width="2.9"/>
<path d="M584.86 673.75V690.75" stroke="#000" stroke-width="3.2" fill="none"/>
<path d="M580.46 673.95H589.26M580.46 690.95H589.26" stroke="#000" stroke-width="3.6" fill="none"/>
<path d="M605.11 602.5V653.25" stroke="#000" stroke-width="3.2" fill="none"/>
<path d="M600.71 602.7H609.51M600.71 653.45H609.51" stroke="#000" stroke-width="3.6" fill="none"/>
<rect x="627.75" y="684.9" width="19.7" height="69.5" fill="#bfbfbf" stroke="#000" stroke-linejoin="round" stroke-width="2.9"/>
<rect x="647.45" y="627.9" width="20.8" height="126.5" fill="url(#p2)" stroke="#000" stroke-linejoin="round" stroke-width="2.9"/>
<path d="M637.9 675.5V693" stroke="#000" stroke-width="3.2" fill="none"/>
<path d="M633.5 675.7H642.3M633.5 693.2H642.3" stroke="#000" stroke-width="3.6" fill="none"/>
<path d="M658.15 606.25V649.25" stroke="#000" stroke-width="3.2" fill="none"/>
<path d="M653.75 606.45H662.55M653.75 649.45H662.55" stroke="#000" stroke-width="3.6" fill="none"/>
<path d="M91 460.4V756.1M81.9 754.4H676.14M81.9 462.1H91M81.9 535.17H91M81.9 608.25H91M81.9 681.33H91M91 754.4V761.7M144.04 754.4V761.7M197.08 754.4V761.7M250.12 754.4V761.7M303.16 754.4V761.7M356.2 754.4V761.7M409.24 754.4V761.7M462.28 754.4V761.7M515.32 754.4V761.7M568.36 754.4V761.7M621.4 754.4V761.7M674.44 754.4V761.7" stroke="#000" stroke-width="3.4" fill="none"/>
<rect x="88.7" y="1101.95" width="21.3" height="91.85" fill="#bfbfbf" stroke="#000" stroke-linejoin="round" stroke-width="3"/>
<rect x="110" y="1146.2" width="22" height="47.6" fill="url(#p2)" stroke="#000" stroke-linejoin="round" stroke-width="3"/>
<path d="M99.35 1077V1125" stroke="#000" stroke-width="3.4" fill="none"/>
<path d="M94.85 1077.2H103.85M94.85 1125.2H103.85" stroke="#000" stroke-width="3.7" fill="none"/>
<path d="M121 1127V1165.75" stroke="#000" stroke-width="3.4" fill="none"/>
<path d="M116.5 1127.2H125.5M116.5 1165.95H125.5" stroke="#000" stroke-width="3.7" fill="none"/>
<rect x="143.4" y="1088.1" width="21.5" height="105.7" fill="#bfbfbf" stroke="#000" stroke-linejoin="round" stroke-width="3"/>
<rect x="164.9" y="1134" width="21.5" height="59.8" fill="url(#p2)" stroke="#000" stroke-linejoin="round" stroke-width="3"/>
<path d="M154.15 1061.2V1112.4" stroke="#000" stroke-width="3.4" fill="none"/>
<path d="M149.65 1061.4H158.65M149.65 1112.6H158.65" stroke="#000" stroke-width="3.7" fill="none"/>
<path d="M175.65 1114.8V1154.2" stroke="#000" stroke-width="3.4" fill="none"/>
<path d="M171.15 1115H180.15M171.15 1154.4H180.15" stroke="#000" stroke-width="3.7" fill="none"/>
<rect x="197.7" y="1070.5" width="21.4" height="123.3" fill="#bfbfbf" stroke="#000" stroke-linejoin="round" stroke-width="3"/>
<rect x="219.1" y="1118.5" width="21.2" height="75.3" fill="url(#p2)" stroke="#000" stroke-linejoin="round" stroke-width="3"/>
<path d="M208.4 1048.6V1090.3" stroke="#000" stroke-width="3.4" fill="none"/>
<path d="M203.9 1048.8H212.9M203.9 1090.5H212.9" stroke="#000" stroke-width="3.7" fill="none"/>
<path d="M229.7 1091.8V1144.7" stroke="#000" stroke-width="3.4" fill="none"/>
<path d="M225.2 1092H234.2M225.2 1144.9H234.2" stroke="#000" stroke-width="3.7" fill="none"/>
<rect x="252.1" y="1061" width="21.9" height="132.8" fill="#bfbfbf" stroke="#000" stroke-linejoin="round" stroke-width="3"/>
<rect x="274" y="1104.2" width="20.9" height="89.6" fill="url(#p2)" stroke="#000" stroke-linejoin="round" stroke-width="3"/>
<path d="M263.05 1036.6V1084.8" stroke="#000" stroke-width="3.4" fill="none"/>
<path d="M258.55 1036.8H267.55M258.55 1085H267.55" stroke="#000" stroke-width="3.7" fill="none"/>
<path d="M284.45 1079.3V1129.8" stroke="#000" stroke-width="3.4" fill="none"/>
<path d="M279.95 1079.5H288.95M279.95 1130H288.95" stroke="#000" stroke-width="3.7" fill="none"/>
<rect x="306.8" y="1048" width="21.9" height="145.8" fill="#bfbfbf" stroke="#000" stroke-linejoin="round" stroke-width="3"/>
<rect x="328.7" y="1091" width="20.5" height="102.8" fill="url(#p2)" stroke="#000" stroke-linejoin="round" stroke-width="3"/>
<path d="M317.75 1021.9V1074.8" stroke="#000" stroke-width="3.4" fill="none"/>
<path d="M313.25 1022.1H322.25M313.25 1075H322.25" stroke="#000" stroke-width="3.7" fill="none"/>
<path d="M338.95 1058.6V1125.2" stroke="#000" stroke-width="3.4" fill="none"/>
<path d="M334.45 1058.8H343.45M334.45 1125.4H343.45" stroke="#000" stroke-width="3.7" fill="none"/>
<rect x="361.4" y="1039.8" width="21.5" height="154" fill="#bfbfbf" stroke="#000" stroke-linejoin="round" stroke-width="3"/>
<rect x="382.9" y="1062.3" width="20.9" height="131.5" fill="url(#p2)" stroke="#000" stroke-linejoin="round" stroke-width="3"/>
<path d="M372.15 1014.4V1064.8" stroke="#000" stroke-width="3.4" fill="none"/>
<path d="M367.65 1014.6H376.65M367.65 1065H376.65" stroke="#000" stroke-width="3.7" fill="none"/>
<path d="M393.35 1016.6V1109.7" stroke="#000" stroke-width="3.4" fill="none"/>
<path d="M388.85 1016.8H397.85M388.85 1109.9H397.85" stroke="#000" stroke-width="3.7" fill="none"/>
<rect x="416.1" y="1036.8" width="21.2" height="157" fill="#bfbfbf" stroke="#000" stroke-linejoin="round" stroke-width="3"/>
<rect x="437.3" y="1045.5" width="20.5" height="148.3" fill="url(#p2)" stroke="#000" stroke-linejoin="round" stroke-width="3"/>
<path d="M426.7 1011.1V1062.3" stroke="#000" stroke-width="3.4" fill="none"/>
<path d="M422.2 1011.3H431.2M422.2 1062.5H431.2" stroke="#000" stroke-width="3.7" fill="none"/>
<path d="M447.55 996.2V1095.3" stroke="#000" stroke-width="3.4" fill="none"/>
<path d="M443.05 996.4H452.05M443.05 1095.5H452.05" stroke="#000" stroke-width="3.7" fill="none"/>
<rect x="469.5" y="1029.3" width="21.7" height="164.5" fill="#bfbfbf" stroke="#000" stroke-linejoin="round" stroke-width="3"/>
<rect x="491.2" y="1023.1" width="21.5" height="170.7" fill="url(#p2)" stroke="#000" stroke-linejoin="round" stroke-width="3"/>
<path d="M480.35 1001.2V1057.3" stroke="#000" stroke-width="3.4" fill="none"/>
<path d="M475.85 1001.4H484.85M475.85 1057.5H484.85" stroke="#000" stroke-width="3.7" fill="none"/>
<path d="M501.95 986.7V1060.6" stroke="#000" stroke-width="3.4" fill="none"/>
<path d="M497.45 986.9H506.45M497.45 1060.8H506.45" stroke="#000" stroke-width="3.7" fill="none"/>
<rect x="524" y="1023.1" width="21" height="170.7" fill="#bfbfbf" stroke="#000" stroke-linejoin="round" stroke-width="3"/>
<rect x="545" y="1006.9" width="21.25" height="186.9" fill="url(#p2)" stroke="#000" stroke-linejoin="round" stroke-width="3"/>
<path d="M534.5 1001.2V1044.8" stroke="#000" stroke-width="3.4" fill="none"/>
<path d="M530 1001.4H539M530 1045H539" stroke="#000" stroke-width="3.7" fill="none"/>
<path d="M555.62 973.7V1041.1" stroke="#000" stroke-width="3.4" fill="none"/>
<path d="M551.12 973.9H560.12M551.12 1041.3H560.12" stroke="#000" stroke-width="3.7" fill="none"/>
<rect x="578.35" y="1028.1" width="21" height="165.7" fill="#bfbfbf" stroke="#000" stroke-linejoin="round" stroke-width="3"/>
<rect x="599.35" y="998.6" width="20.95" height="195.2" fill="url(#p2)" stroke="#000" stroke-linejoin="round" stroke-width="3"/>
<path d="M588.85 1006.9V1047.8" stroke="#000" stroke-width="3.4" fill="none"/>
<path d="M584.35 1007.1H593.35M584.35 1048H593.35" stroke="#000" stroke-width="3.7" fill="none"/>
<path d="M609.83 970.2V1027.2" stroke="#000" stroke-width="3.4" fill="none"/>
<path d="M605.33 970.4H614.33M605.33 1027.4H614.33" stroke="#000" stroke-width="3.7" fill="none"/>
<rect x="632.6" y="1025.6" width="21.5" height="168.2" fill="#bfbfbf" stroke="#000" stroke-linejoin="round" stroke-width="3"/>
<rect x="654.1" y="985.6" width="21.5" height="208.2" fill="url(#p2)" stroke="#000" stroke-linejoin="round" stroke-width="3"/>
<path d="M643.35 1002.4V1047.3" stroke="#000" stroke-width="3.4" fill="none"/>
<path d="M638.85 1002.6H647.85M638.85 1047.5H647.85" stroke="#000" stroke-width="3.7" fill="none"/>
<path d="M664.85 956.2V1014.9" stroke="#000" stroke-width="3.4" fill="none"/>
<path d="M660.35 956.4H669.35M660.35 1015.1H669.35" stroke="#000" stroke-width="3.7" fill="none"/>
<path d="M83.55 909.7V1195.5M74.3 1193.8H682.66M74.3 911.4H83.55M74.3 946.7H83.55M74.3 982H83.55M74.3 1017.3H83.55M74.3 1052.6H83.55M74.3 1087.9H83.55M74.3 1123.2H83.55M74.3 1158.5H83.55M83.55 1193.8V1200.9M137.15 1193.8V1200.9M191.3 1193.8V1200.9M245.6 1193.8V1200.9M300.1 1193.8V1200.9M354.4 1193.8V1200.9M409.3 1193.8V1200.9M463.7 1193.8V1200.9M517.9 1193.8V1200.9M571.85 1193.8V1200.9M626.3 1193.8V1200.9M681 1193.8V1200.9" stroke="#000" stroke-width="3.4" fill="none"/>
<text transform="translate(175.7 69.4) scale(1.2338 1)" font-size="23.32" font-weight="normal" stroke="#000" stroke-width="0.85">Non-Cleft</text>
<text transform="translate(176 109.9) scale(1.1998 1)" font-size="23.32" font-weight="normal" stroke="#000" stroke-width="0.85">Cleft</text>
<text transform="translate(27.4 296.73) rotate(-90) scale(1.0989 1)" font-size="26.54" font-weight="normal" stroke="#000" stroke-width="0.65">Nostril area (mm<tspan font-size="62%" dy="-0.45em">2</tspan><tspan dy="0.279em">)</tspan></text>
<text transform="translate(67.45 304.3) scale(1.0898 1)" font-size="21.79" text-anchor="end" stroke="#000" stroke-width="0.75">0</text>
<text transform="translate(67.45 272.5) scale(1.0898 1)" font-size="21.79" text-anchor="end" stroke="#000" stroke-width="0.75">10</text>
<text transform="translate(67.45 240.7) scale(1.0898 1)" font-size="21.79" text-anchor="end" stroke="#000" stroke-width="0.75">20</text>
<text transform="translate(67.45 208.9) scale(1.0898 1)" font-size="21.79" text-anchor="end" stroke="#000" stroke-width="0.75">30</text>
<text transform="translate(67.45 177.1) scale(1.0898 1)" font-size="21.79" text-anchor="end" stroke="#000" stroke-width="0.75">40</text>
<text transform="translate(67.45 145.3) scale(1.0898 1)" font-size="21.79" text-anchor="end" stroke="#000" stroke-width="0.75">50</text>
<text transform="translate(67.45 113.5) scale(1.0898 1)" font-size="21.79" text-anchor="end" stroke="#000" stroke-width="0.75">60</text>
<text transform="translate(67.45 81.7) scale(1.0898 1)" font-size="21.79" text-anchor="end" stroke="#000" stroke-width="0.75">70</text>
<text transform="translate(67.45 49.9) scale(1.0898 1)" font-size="21.79" text-anchor="end" stroke="#000" stroke-width="0.75">80</text>
<text transform="translate(67.45 18.1) scale(1.0898 1)" font-size="21.79" text-anchor="end" stroke="#000" stroke-width="0.75">90</text>
<text transform="translate(463.22 493) scale(1.2203 1)" font-size="23.32" font-weight="normal" stroke="#000" stroke-width="0.85">Non-Cleft</text>
<text transform="translate(463.09 538) scale(1.2115 1)" font-size="23.32" font-weight="normal" stroke="#000" stroke-width="0.85">Cleft</text>
<text transform="translate(24 757.44) rotate(-90) scale(1.0220 1)" font-size="29.89" font-weight="normal" stroke="#000" stroke-width="0.65">Nostril width (mm)</text>
<text transform="translate(62.39 763.1) scale(1.0972 1)" font-size="25.14" text-anchor="end" stroke="#000" stroke-width="0.75">0</text>
<text transform="translate(62.39 690.03) scale(1.0972 1)" font-size="25.14" text-anchor="end" stroke="#000" stroke-width="0.75">5</text>
<text transform="translate(62.39 616.95) scale(1.0972 1)" font-size="25.14" text-anchor="end" stroke="#000" stroke-width="0.75">10</text>
<text transform="translate(62.39 543.88) scale(1.0972 1)" font-size="25.14" text-anchor="end" stroke="#000" stroke-width="0.75">15</text>
<text transform="translate(62.39 470.8) scale(1.0972 1)" font-size="25.14" text-anchor="end" stroke="#000" stroke-width="0.75">20</text>
<text transform="translate(144.32 974.1) scale(1.2224 1)" font-size="23.32" font-weight="normal" stroke="#000" stroke-width="0.85">Non-Cleft</text>
<text transform="translate(302.61 974.1) scale(1.1934 1)" font-size="23.32" font-weight="normal" stroke="#000" stroke-width="0.85">Cleft</text>
<text transform="translate(31 1177.97) rotate(-90) scale(1.0949 1)" font-size="27.09" font-weight="normal" stroke="#000" stroke-width="0.65">Nostril height (mm)</text>
<text transform="translate(58.36 1200.75) scale(1.0889 1)" font-size="21.93" text-anchor="end" stroke="#000" stroke-width="0.75">0</text>
<text transform="translate(58.36 1165.45) scale(1.0889 1)" font-size="21.93" text-anchor="end" stroke="#000" stroke-width="0.75">1</text>
<text transform="translate(58.36 1130.15) scale(1.0889 1)" font-size="21.93" text-anchor="end" stroke="#000" stroke-width="0.75">2</text>
<text transform="translate(58.36 1094.85) scale(1.0889 1)" font-size="21.93" text-anchor="end" stroke="#000" stroke-width="0.75">3</text>
<text transform="translate(58.36 1059.55) scale(1.0889 1)" font-size="21.93" text-anchor="end" stroke="#000" stroke-width="0.75">4</text>
<text transform="translate(58.36 1024.25) scale(1.0889 1)" font-size="21.93" text-anchor="end" stroke="#000" stroke-width="0.75">5</text>
<text transform="translate(58.36 988.95) scale(1.0889 1)" font-size="21.93" text-anchor="end" stroke="#000" stroke-width="0.75">6</text>
<text transform="translate(58.36 953.65) scale(1.0889 1)" font-size="21.93" text-anchor="end" stroke="#000" stroke-width="0.75">7</text>
<text transform="translate(58.36 918.35) scale(1.0889 1)" font-size="21.93" text-anchor="end" stroke="#000" stroke-width="0.75">8</text>
<rect x="150.6" y="53.2" width="17.1" height="16.8" fill="#bfbfbf" stroke="#000" stroke-linejoin="round" stroke-width="3"/>
<rect x="150.6" y="92.3" width="17.1" height="17.5" fill="url(#p1)" stroke="#000" stroke-linejoin="round" stroke-width="3"/>
<rect x="438.7" y="476.5" width="16.1" height="16.8" fill="#bfbfbf" stroke="#000" stroke-linejoin="round" stroke-width="3"/>
<rect x="438.7" y="522.1" width="16.1" height="16.8" fill="url(#p2)" stroke="#000" stroke-linejoin="round" stroke-width="3"/>
<rect x="119.4" y="958.2" width="16.2" height="16.3" fill="#bfbfbf" stroke="#000" stroke-linejoin="round" stroke-width="3"/>
<rect x="276.8" y="958.1" width="17.2" height="16.5" fill="url(#p2)" stroke="#000" stroke-linejoin="round" stroke-width="3"/>
<text transform="translate(124.95 324.7) rotate(-57.5) scale(1.000 1)" font-size="20" text-anchor="end" stroke="#000" stroke-width="0.7">PRE NAM</text>
<text transform="translate(176.05 324.7) rotate(-57.5) scale(1.000 1)" font-size="20" text-anchor="end" stroke="#000" stroke-width="0.7">Week 1</text>
<text transform="translate(227.15 324.7) rotate(-57.5) scale(1.000 1)" font-size="20" text-anchor="end" stroke="#000" stroke-width="0.7">Week 2</text>
<text transform="translate(278.25 324.7) rotate(-57.5) scale(1.000 1)" font-size="20" text-anchor="end" stroke="#000" stroke-width="0.7">Week 3</text>
<text transform="translate(329.35 324.7) rotate(-57.5) scale(1.000 1)" font-size="20" text-anchor="end" stroke="#000" stroke-width="0.7">Week 4</text>
<text transform="translate(380.45 324.7) rotate(-57.5) scale(1.000 1)" font-size="20" text-anchor="end" stroke="#000" stroke-width="0.7">Week 5</text>
<text transform="translate(431.55 324.7) rotate(-57.5) scale(1.000 1)" font-size="20" text-anchor="end" stroke="#000" stroke-width="0.7">Week 6</text>
<text transform="translate(482.65 324.7) rotate(-57.5) scale(1.000 1)" font-size="20" text-anchor="end" stroke="#000" stroke-width="0.7">Week 7</text>
<text transform="translate(533.75 324.7) rotate(-57.5) scale(1.000 1)" font-size="20" text-anchor="end" stroke="#000" stroke-width="0.7">Week 8</text>
<text transform="translate(584.85 324.7) rotate(-57.5) scale(1.000 1)" font-size="20" text-anchor="end" stroke="#000" stroke-width="0.7">Week 9</text>
<text transform="translate(635.95 324.7) rotate(-57.5) scale(1.000 1)" font-size="20" text-anchor="end" stroke="#000" stroke-width="0.7">Week 10</text>
<text transform="translate(132.42 764.5) rotate(-62.5) scale(1.030 1)" font-size="18.6" text-anchor="end" stroke="#000" stroke-width="0.7">PRE...</text>
<text transform="translate(177.06 778.7) rotate(-62.5) scale(1.100 1)" font-size="18.6" text-anchor="end" stroke="#000" stroke-width="0.7">Week 1</text>
<text transform="translate(230.1 778.7) rotate(-62.5) scale(1.100 1)" font-size="18.6" text-anchor="end" stroke="#000" stroke-width="0.7">Week 2</text>
<text transform="translate(283.14 778.7) rotate(-62.5) scale(1.100 1)" font-size="18.6" text-anchor="end" stroke="#000" stroke-width="0.7">Week 3</text>
<text transform="translate(336.18 778.7) rotate(-62.5) scale(1.100 1)" font-size="18.6" text-anchor="end" stroke="#000" stroke-width="0.7">Week 4</text>
<text transform="translate(389.22 778.7) rotate(-62.5) scale(1.100 1)" font-size="18.6" text-anchor="end" stroke="#000" stroke-width="0.7">Week 5</text>
<text transform="translate(442.26 778.7) rotate(-62.5) scale(1.100 1)" font-size="18.6" text-anchor="end" stroke="#000" stroke-width="0.7">Week 6</text>
<text transform="translate(495.3 778.7) rotate(-62.5) scale(1.100 1)" font-size="18.6" text-anchor="end" stroke="#000" stroke-width="0.7">Week 7</text>
<text transform="translate(548.34 778.7) rotate(-62.5) scale(1.100 1)" font-size="18.6" text-anchor="end" stroke="#000" stroke-width="0.7">Week 8</text>
<text transform="translate(601.38 778.7) rotate(-62.5) scale(1.100 1)" font-size="18.6" text-anchor="end" stroke="#000" stroke-width="0.7">Week 9</text>
<text transform="translate(654.42 778.7) rotate(-62.5) scale(1.100 1)" font-size="18.6" text-anchor="end" stroke="#000" stroke-width="0.7">Week 10</text>
<text transform="translate(117.2 1218.9) rotate(-62.5) scale(0.970 1)" font-size="19.4" text-anchor="end" stroke="#000" stroke-width="0.7">PRE NAM</text>
<text transform="translate(170.31 1219.5) rotate(-62.5) scale(1.070 1)" font-size="19.4" text-anchor="end" stroke="#000" stroke-width="0.7">Week 1</text>
<text transform="translate(224.62 1219.5) rotate(-62.5) scale(1.070 1)" font-size="19.4" text-anchor="end" stroke="#000" stroke-width="0.7">Week 2</text>
<text transform="translate(278.94 1219.5) rotate(-62.5) scale(1.070 1)" font-size="19.4" text-anchor="end" stroke="#000" stroke-width="0.7">Week 3</text>
<text transform="translate(333.25 1219.5) rotate(-62.5) scale(1.070 1)" font-size="19.4" text-anchor="end" stroke="#000" stroke-width="0.7">Week 4</text>
<text transform="translate(387.56 1219.5) rotate(-62.5) scale(1.070 1)" font-size="19.4" text-anchor="end" stroke="#000" stroke-width="0.7">Week 5</text>
<text transform="translate(441.87 1219.5) rotate(-62.5) scale(1.070 1)" font-size="19.4" text-anchor="end" stroke="#000" stroke-width="0.7">Week 6</text>
<text transform="translate(496.18 1219.5) rotate(-62.5) scale(1.070 1)" font-size="19.4" text-anchor="end" stroke="#000" stroke-width="0.7">Week 7</text>
<text transform="translate(550.48 1219.5) rotate(-62.5) scale(1.070 1)" font-size="19.4" text-anchor="end" stroke="#000" stroke-width="0.7">Week 8</text>
<text transform="translate(604.79 1219.5) rotate(-62.5) scale(1.070 1)" font-size="19.4" text-anchor="end" stroke="#000" stroke-width="0.7">Week 9</text>
<text transform="translate(659.1 1219.5) rotate(-62.5) scale(1.070 1)" font-size="19.4" text-anchor="end" stroke="#000" stroke-width="0.7">Week 10</text>
</svg>
</body></html>
